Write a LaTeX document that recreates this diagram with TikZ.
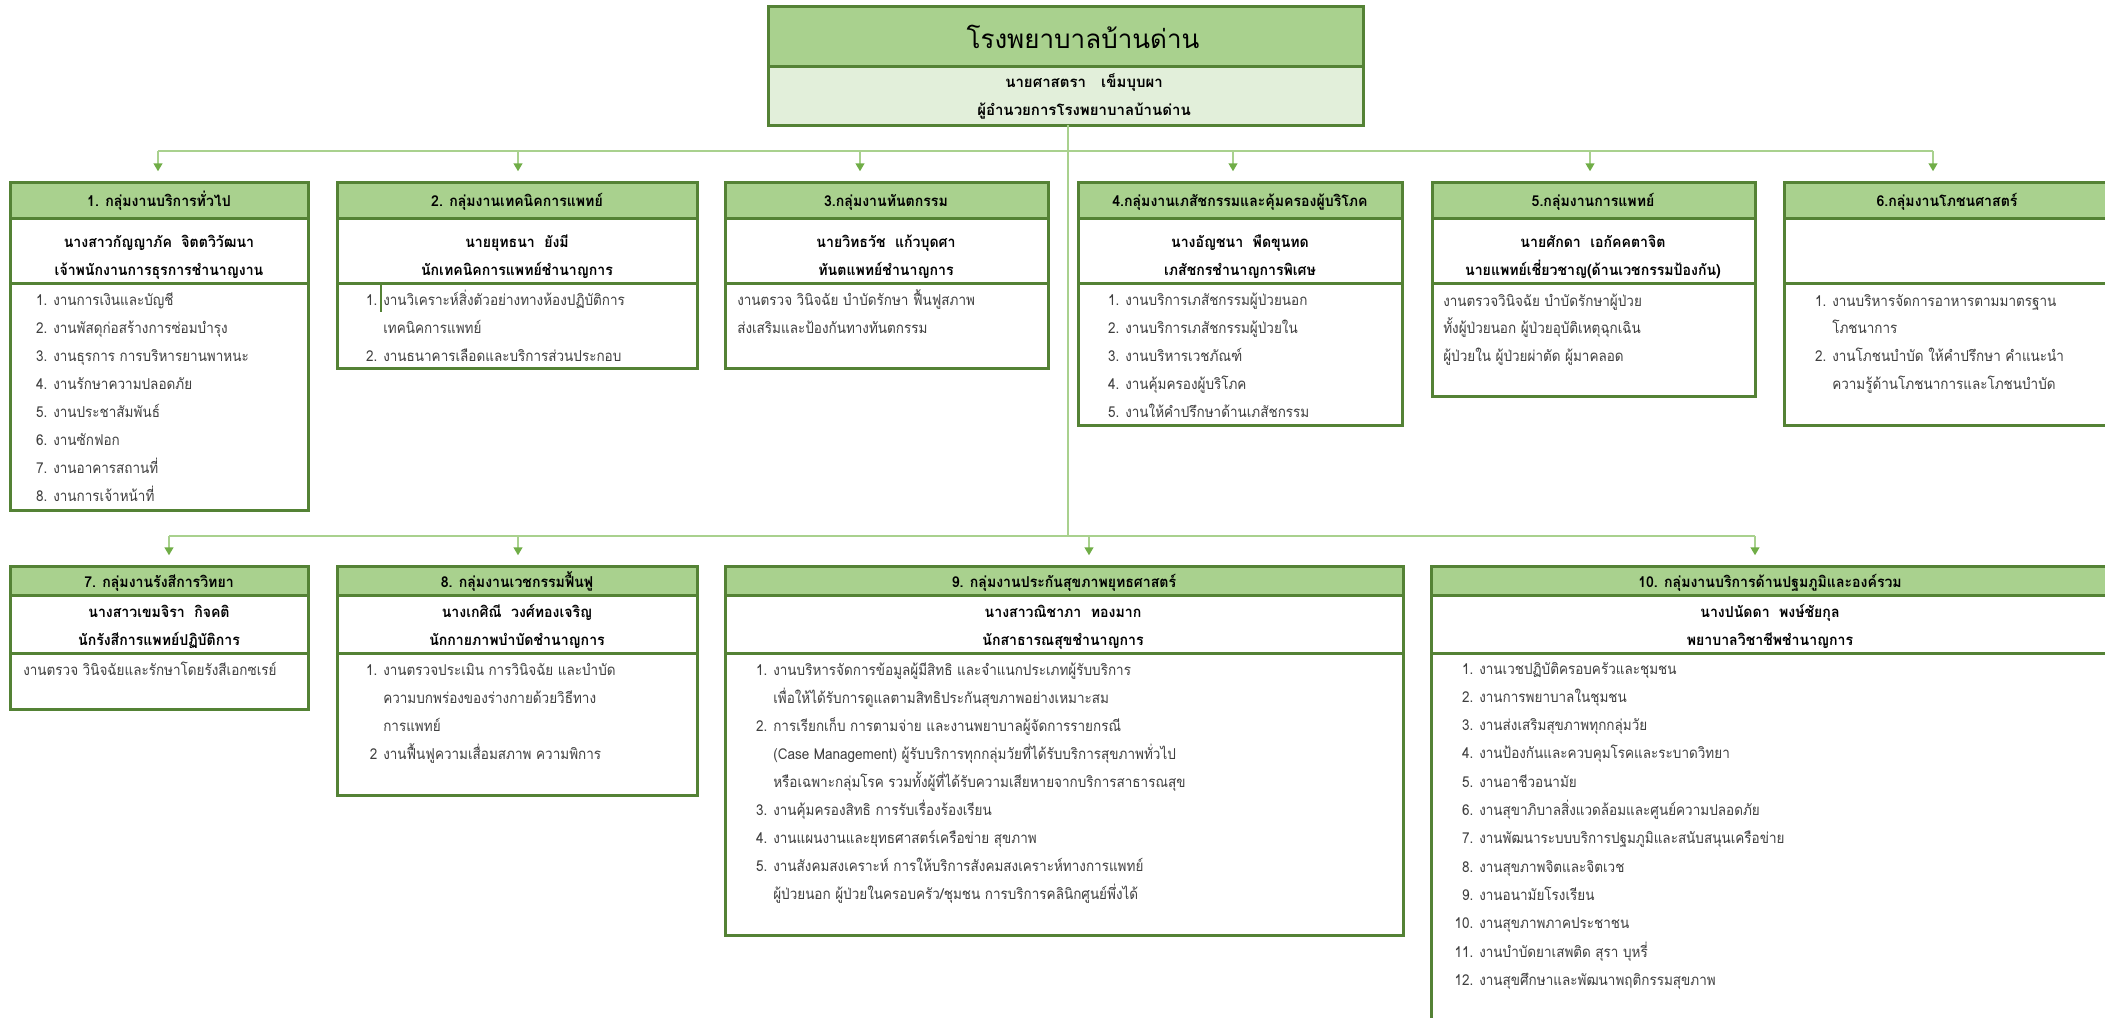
\documentclass[tikz,border=0pt]{standalone}
\usepackage{fontspec}
\setmainfont{Loma}[Script=Thai, FakeStretch=0.9]
\newfontfamily\plainthai{Loma}[Script=Thai]
\newfontfamily\boldthai{Loma}[Script=Thai, FakeStretch=0.94]
\usetikzlibrary{arrows.meta}
\definecolor{dkg}{HTML}{548235}
\definecolor{hdrg}{HTML}{A9D18E}
\definecolor{ltg}{HTML}{E2EFDA}
\definecolor{arrg}{HTML}{70AD47}
\definecolor{txtg}{HTML}{3F3F3F}
\newcommand\boxseg[6]{\node[#2, anchor=north west, minimum width={(#5-#3)*0.75pt}, minimum height={(#6-#4)*0.75pt}] (#1) at (#3,#4) {};}
\newcommand\itemlines[5]{\foreach \n/\t [count=\i] in {#5} {\node[lst] (#1\i) at (#2,{#3+#4*(\i-1)}) {\makebox[0pt][r]{\n\hspace{4.5pt}}\t};}}
\tikzset{
 x=0.75pt, y=-0.75pt,
 seg/.style={draw=dkg, line width=2.25pt, inner sep=0pt, outer sep=0pt},
 hdr/.style={seg, fill=hdrg},
 wht/.style={seg, fill=white},
 sub/.style={seg, fill=ltg},
 conn/.style={draw=hdrg, line width=1.5pt},
 arr/.style={conn, -{Triangle[length=6pt,width=6.5pt,color=arrg,fill=arrg]}, shorten >=8pt},
 lst/.style={anchor=base west, inner sep=0pt, text=txtg, font=\fontsize{11.25pt}{13pt}\selectfont},
 ctr/.style={anchor=base, inner sep=0pt, font=\boldthai\bfseries\fontsize{11.25pt}{13pt}\selectfont},
 subtxt/.style={anchor=base, inner sep=0pt, font=\plainthai\bfseries\fontsize{11.25pt}{13pt}\selectfont},
 ttltxt/.style={anchor=base, inner sep=0pt, font=\plainthai\fontsize{19.5pt}{23pt}\selectfont},
}
\begin{document}
\begin{tikzpicture}
\useasboundingbox (0,0) rectangle (2105,1017);
% ---- title ----
\boxseg{ttl}{hdr}{768}{6}{1363}{66}
\boxseg{dir}{sub}{768}{66}{1363}{125}
\node[ttltxt] (ttlt) at (1083,48) {โรงพยาบาลบ้านด่าน};
\node[subtxt] (dirt1) at (1084,87) {นายศาสตรา~~~เข็มบุบผา};
\node[subtxt] (dirt2) at (1084,115) {ผู้อำนวยการโรงพยาบาลบ้านด่าน};
% ---- connectors ----
\coordinate (j1) at (1068,151);
\coordinate (j2) at (1068,536);
\coordinate (a1) at (158,151);
\coordinate (a2) at (518,151);
\coordinate (a3) at (860,151);
\coordinate (a4) at (1233,151);
\coordinate (a5) at (1590,151);
\coordinate (a6) at (1933,151);
\coordinate (a7) at (169,536);
\coordinate (a8) at (518,536);
\coordinate (a9) at (1089,536);
\coordinate (a10) at (1755,536);
\draw[conn] (dir.south -| j1) -- (j2);
\draw[conn] (a1) -- (a6);
\draw[conn] (a7) -- (a10);
% ---- row 1 boxes ----
\boxseg{h1}{hdr}{10}{182}{308}{218}
\boxseg{n1}{wht}{10}{218}{308}{283}
\boxseg{l1}{wht}{10}{283}{308}{510}
\boxseg{h2}{hdr}{337}{182}{697}{218}
\boxseg{n2}{wht}{337}{218}{697}{283}
\boxseg{l2}{wht}{337}{283}{697}{368}
\boxseg{h3}{hdr}{725}{182}{1048}{218}
\boxseg{n3}{wht}{725}{218}{1048}{283}
\boxseg{l3}{wht}{725}{283}{1048}{368}
\boxseg{h4}{hdr}{1078}{182}{1402}{218}
\boxseg{n4}{wht}{1078}{218}{1402}{283}
\boxseg{l4}{wht}{1078}{283}{1402}{425}
\boxseg{h5}{hdr}{1432}{182}{1755}{218}
\boxseg{n5}{wht}{1432}{218}{1755}{283}
\boxseg{l5}{wht}{1432}{283}{1755}{396}
\boxseg{h6}{hdr}{1784}{182}{2115}{218}
\boxseg{n6}{wht}{1784}{218}{2115}{283}
\boxseg{l6}{wht}{1784}{283}{2115}{425}
% ---- row 2 boxes ----
\boxseg{h7}{hdr}{10}{566}{308}{595}
\boxseg{n7}{wht}{10}{595}{308}{653}
\boxseg{l7}{wht}{10}{653}{308}{709}
\boxseg{h8}{hdr}{337}{566}{697}{595}
\boxseg{n8}{wht}{337}{595}{697}{653}
\boxseg{l8}{wht}{337}{653}{697}{795}
\boxseg{h9}{hdr}{725}{566}{1403}{595}
\boxseg{n9}{wht}{725}{595}{1403}{653}
\boxseg{l9}{wht}{725}{653}{1403}{935}
\boxseg{h10}{hdr}{1431}{566}{2115}{595}
\boxseg{n10}{wht}{1431}{595}{2115}{653}
\boxseg{l10}{wht}{1431}{653}{2115}{1040}
% ---- arrows ----
\foreach \k in {1,...,10} {\draw[arr] (a\k) -- (a\k |- h\k.north);}
% stray mark in box 2
\coordinate (m1) at (381,284);
\coordinate (m2) at (381,312);
\draw[draw=dkg, line width=1.5pt] (m1) -- (m2);
% ---- row 1 texts ----
\node[ctr] (h1t) at (159,206) {1. กลุ่มงานบริการทั่วไป};
\node[ctr] (n1a) at (159,247) {นางสาวกัญญาภัค~~จิตตวิวัฒนา};
\node[ctr] (n1b) at (159,275) {เจ้าพนักงานการธุรการชำนาญงาน};
\itemlines{t1-}{53}{305}{28.1}{1./งานการเงินและบัญชี, 2./งานพัสดุก่อสร้างการซ่อมบำรุง, 3./งานธุรการ การบริหารยานพาหนะ, 4./งานรักษาความปลอดภัย, 5./งานประชาสัมพันธ์, 6./งานซักฟอก, 7./งานอาคารสถานที่, 8./งานการเจ้าหน้าที่}
\node[ctr] (h2t) at (517,206) {2. กลุ่มงานเทคนิคการแพทย์};
\node[ctr] (n2a) at (517,247) {นายยุทธนา~~ยังมี};
\node[ctr] (n2b) at (517,275) {นักเทคนิคการแพทย์ชำนาญการ};
\itemlines{t2-}{383}{305}{28.2}{1./งานวิเคราะห์สิ่งตัวอย่างทางห้องปฏิบัติการ, {}/เทคนิคการแพทย์, 2./งานธนาคารเลือดและบริการส่วนประกอบ}
\node[ctr] (h3t) at (886,206) {3.กลุ่มงานทันตกรรม};
\node[ctr] (n3a) at (886,247) {นายวิทธวัช~~แก้วบุดศา};
\node[ctr] (n3b) at (886,275) {ทันตแพทย์ชำนาญการ};
\itemlines{t3-}{737}{305}{28.2}{{}/งานตรวจ วินิจฉัย บำบัดรักษา ฟื้นฟูสภาพ, {}/ส่งเสริมและป้องกันทางทันตกรรม}
\node[ctr] (h4t) at (1240,206) {4.กลุ่มงานเภสัชกรรมและคุ้มครองผู้บริโภค};
\node[ctr] (n4a) at (1240,247) {นางอัญชนา~~พืดขุนทด};
\node[ctr] (n4b) at (1240,275) {เภสัชกรชำนาญการพิเศษ};
\itemlines{t4-}{1125}{305}{28.2}{1./งานบริการเภสัชกรรมผู้ป่วยนอก, 2./งานบริการเภสัชกรรมผู้ป่วยใน, 3./งานบริหารเวชภัณฑ์, 4./งานคุ้มครองผู้บริโภค, 5./งานให้คำปรึกษาด้านเภสัชกรรม}
\node[ctr] (h5t) at (1593,206) {5.กลุ่มงานการแพทย์};
\node[ctr] (n5a) at (1593,247) {นายศักดา~~เอกัคคตาจิต};
\node[ctr] (n5b) at (1593,275) {นายแพทย์เชี่ยวชาญ(ด้านเวชกรรมป้องกัน)};
\itemlines{t5-}{1443}{306}{27.8}{{}/งานตรวจวินิจฉัย บำบัดรักษาผู้ป่วย, {}/ทั้งผู้ป่วยนอก ผู้ป่วยอุบัติเหตุฉุกเฉิน, {}/ผู้ป่วยใน ผู้ป่วยผ่าตัด ผู้มาคลอด}
\node[ctr] (h6t) at (1947,206) {6.กลุ่มงานโภชนศาสตร์};
\itemlines{t6-}{1832}{306}{27.8}{1./งานบริหารจัดการอาหารตามมาตรฐาน, {}/โภชนาการ, 2./งานโภชนบำบัด ให้คำปรึกษา คำแนะนำ, {}/ความรู้ด้านโภชนาการและโภชนบำบัด}
% ---- row 2 texts ----
\node[ctr] (h7t) at (159,587) {7. กลุ่มงานรังสีการวิทยา};
\node[ctr] (n7a) at (159,617) {นางสาวเขมจิรา~~กิจคติ};
\node[ctr] (n7b) at (159,645) {นักรังสีการแพทย์ปฏิบัติการ};
\itemlines{t7-}{23}{675}{28.2}{{}/งานตรวจ วินิจฉัยและรักษาโดยรังสีเอกซเรย์}
\node[ctr] (h8t) at (517,587) {8. กลุ่มงานเวชกรรมฟื้นฟู};
\node[ctr] (n8a) at (517,617) {นางเกศิณี~~วงศ์ทองเจริญ};
\node[ctr] (n8b) at (517,645) {นักกายภาพบำบัดชำนาญการ};
\itemlines{t8-}{383}{675}{28.3}{1./งานตรวจประเมิน การวินิจฉัย และบำบัด, {}/ความบกพร่องของร่างกายด้วยวิธีทาง, {}/การแพทย์, 2/งานฟื้นฟูความเสื่อมสภาพ ความพิการ}
\node[ctr] (h9t) at (1064,587) {9. กลุ่มงานประกันสุขภาพยุทธศาสตร์};
\node[ctr] (n9a) at (1063,617) {นางสาวณิชาภา~~ทองมาก};
\node[ctr] (n9b) at (1063,645) {นักสาธารณสุขชำนาญการ};
\itemlines{t9-}{773}{675}{28.1}{1./งานบริหารจัดการข้อมูลผู้มีสิทธิ และจำแนกประเภทผู้รับบริการ, {}/เพื่อให้ได้รับการดูแลตามสิทธิประกันสุขภาพอย่างเหมาะสม, 2./การเรียกเก็บ การตามจ่าย และงานพยาบาลผู้จัดการรายกรณี, {}/{(Case Management) ผู้รับบริการทุกกลุ่มวัยที่ได้รับบริการสุขภาพทั่วไป}, {}/หรือเฉพาะกลุ่มโรค รวมทั้งผู้ที่ได้รับความเสียหายจากบริการสาธารณสุข, 3./งานคุ้มครองสิทธิ การรับเรื่องร้องเรียน, 4./งานแผนงานและยุทธศาสตร์เครือข่าย สุขภาพ, 5./งานสังคมสงเคราะห์ การให้บริการสังคมสงเคราะห์ทางการแพทย์, {}/{ผู้ป่วยนอก ผู้ป่วยในครอบครัว/ชุมชน การบริการคลินิกศูนย์พึ่งได้}}
\node[ctr] (h10t) at (1770,587) {10. กลุ่มงานบริการด้านปฐมภูมิและองค์รวม};
\node[ctr] (n10a) at (1770,617) {นางปนัดดา~~พงษ์ชัยกุล};
\node[ctr] (n10b) at (1770,645) {พยาบาลวิชาชีพชำนาญการ};
\itemlines{t10-}{1479}{674}{28.3}{1./งานเวชปฏิบัติครอบครัวและชุมชน, 2./งานการพยาบาลในชุมชน, 3./งานส่งเสริมสุขภาพทุกกลุ่มวัย, 4./งานป้องกันและควบคุมโรคและระบาดวิทยา, 5./งานอาชีวอนามัย, 6./งานสุขาภิบาลสิ่งแวดล้อมและศูนย์ความปลอดภัย, 7./งานพัฒนาระบบบริการปฐมภูมิและสนับสนุนเครือข่าย, 8./งานสุขภาพจิตและจิตเวช, 9./งานอนามัยโรงเรียน, 10./งานสุขภาพภาคประชาชน, 11./งานบำบัดยาเสพติด สุรา บุหรี่, 12./งานสุขศึกษาและพัฒนาพฤติกรรมสุขภาพ}
\end{tikzpicture}
\end{document}
